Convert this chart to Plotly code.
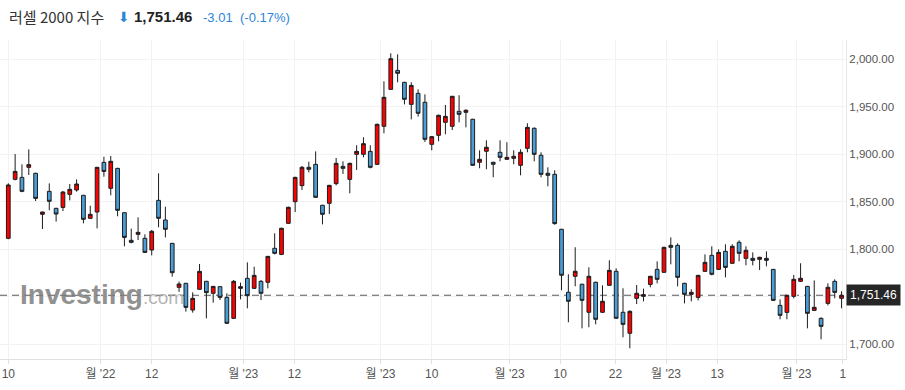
import plotly.graph_objects as go

# Daily candles (index 0 = first session shown)
opens = [1811.4, 1873.5, 1875.6, 1886.2, 1879.9, 1836.7, 1860.9, 1843.0, 1844.0, 1857.7,
         1862.3, 1856.7, 1832.5, 1839.1, 1891.4, 1864.1, 1885.1, 1838.4, 1809.3, 1815.6,
         1811.4, 1799.1, 1851.4, 1830.7, 1806.1, 1759.8, 1764.0, 1735.9, 1757.7, 1766.1,
         1753.5, 1760.5, 1749.2, 1727.1, 1758.7, 1769.3, 1758.7, 1766.1, 1765.1, 1800.9,
         1794.5, 1827.2, 1850.0, 1866.9, 1886.2, 1889.3, 1846.2, 1848.3, 1869.0, 1887.2,
         1873.5, 1899.9, 1899.9, 1903.0, 1889.3, 1929.4, 1968.3, 1988.3, 1975.7, 1952.5,
         1964.1, 1954.7, 1910.4, 1919.9, 1933.6, 1929.4, 1945.2, 1944.1, 1936.8, 1891.5,
         1903.1, 1891.5, 1902.0, 1894.6, 1895.7, 1888.3, 1906.2, 1927.3, 1898.9, 1879.9,
         1878.8, 1820.9, 1754.6, 1771.4, 1763.0, 1733.5, 1765.1, 1733.5, 1761.9, 1776.7,
         1733.5, 1711.4, 1748.2, 1750.3, 1762.9, 1778.7, 1775.6, 1804.0, 1804.0, 1764.0,
         1752.4, 1749.2, 1776.6, 1793.5, 1778.7, 1797.7, 1785.1, 1807.2, 1790.3, 1790.3,
         1789.3, 1790.3, 1778.7, 1740.8, 1733.4, 1750.3, 1766.1, 1760.8, 1735.5, 1727.1,
         1742.9, 1766.1, 1748.2]
highs = [1869.3, 1900.2, 1889.3, 1905.1, 1880.5, 1839.5, 1869.3, 1843.5, 1861.2, 1868.6,
         1873.5, 1857.2, 1845.8, 1886.6, 1897.4, 1898.1, 1885.6, 1838.9, 1821.6, 1833.5,
         1815.6, 1820.2, 1879.9, 1844.7, 1806.6, 1765.8, 1764.5, 1754.5, 1784.4, 1766.6,
         1761.2, 1760.9, 1753.5, 1767.5, 1764.7, 1786.1, 1781.5, 1767.5, 1792.8, 1816.7,
         1822.6, 1844.8, 1876.3, 1887.6, 1892.2, 1903.0, 1846.7, 1867.7, 1896.0, 1892.5,
         1891.1, 1909.4, 1917.8, 1909.4, 1932.2, 1976.8, 2006.3, 2005.2, 1976.2, 1975.7,
         1968.3, 1963.1, 1919.2, 1941.7, 1951.9, 1961.4, 1962.1, 1947.3, 1937.3, 1904.1,
         1914.7, 1892.0, 1914.7, 1912.6, 1904.1, 1905.2, 1932.6, 1928.3, 1902.0, 1886.2,
         1883.1, 1821.4, 1773.5, 1802.0, 1763.7, 1780.9, 1765.8, 1761.9, 1788.3, 1779.8,
         1758.8, 1735.6, 1762.2, 1758.4, 1771.8, 1787.2, 1802.6, 1812.4, 1806.1, 1764.6,
         1757.7, 1772.9, 1794.5, 1803.0, 1799.8, 1805.1, 1805.1, 1809.3, 1803.0, 1796.6,
         1792.0, 1797.7, 1779.2, 1747.1, 1752.0, 1772.8, 1785.1, 1761.3, 1767.1, 1728.2,
         1764.0, 1768.2, 1755.6]
lows = [1810.5, 1872.5, 1860.0, 1878.1, 1850.7, 1821.2, 1840.9, 1829.0, 1840.2, 1851.4,
        1860.5, 1827.2, 1832.0, 1821.9, 1876.3, 1856.7, 1834.6, 1803.0, 1806.1, 1809.6,
        1796.2, 1793.5, 1823.0, 1812.4, 1771.0, 1755.0, 1734.2, 1733.1, 1757.2, 1727.1,
        1743.6, 1746.4, 1721.2, 1726.6, 1747.1, 1737.7, 1758.0, 1746.4, 1758.7, 1794.5,
        1793.8, 1826.5, 1839.1, 1862.3, 1880.9, 1854.0, 1826.1, 1837.0, 1867.2, 1879.2,
        1858.8, 1883.4, 1896.7, 1885.1, 1888.6, 1922.0, 1967.6, 1975.7, 1952.5, 1936.7,
        1939.6, 1912.9, 1904.1, 1913.6, 1921.0, 1925.5, 1933.6, 1928.3, 1887.6, 1885.2,
        1884.1, 1875.7, 1892.5, 1894.0, 1889.4, 1877.8, 1902.0, 1892.5, 1875.7, 1866.2,
        1825.8, 1756.7, 1723.0, 1760.9, 1716.6, 1717.7, 1720.8, 1732.8, 1761.2, 1726.5,
        1707.2, 1695.6, 1742.2, 1745.0, 1759.8, 1764.0, 1775.0, 1784.0, 1760.8, 1742.9,
        1745.0, 1746.1, 1776.0, 1772.4, 1778.0, 1770.3, 1784.5, 1787.2, 1782.9, 1782.9,
        1778.0, 1781.9, 1745.4, 1726.1, 1726.1, 1748.2, 1765.4, 1716.6, 1734.8, 1705.0,
        1740.8, 1748.2, 1737.7]
closes = [1867.6, 1881.9, 1860.9, 1889.0, 1853.5, 1839.1, 1850.4, 1837.0, 1860.2, 1863.0,
          1868.6, 1831.4, 1836.7, 1886.2, 1881.9, 1892.5, 1840.9, 1812.4, 1807.2, 1817.7,
          1796.6, 1818.8, 1832.5, 1820.9, 1775.2, 1763.3, 1738.7, 1748.2, 1776.6, 1754.2,
          1760.8, 1749.2, 1721.9, 1766.1, 1760.5, 1751.0, 1772.4, 1753.5, 1792.4, 1795.6,
          1822.0, 1844.1, 1875.6, 1886.2, 1884.1, 1854.6, 1836.7, 1867.2, 1890.4, 1885.1,
          1890.4, 1903.0, 1911.1, 1886.2, 1931.5, 1959.9, 2000.6, 1985.2, 1957.8, 1972.5,
          1943.1, 1915.7, 1918.5, 1941.0, 1939.9, 1961.0, 1942.0, 1946.3, 1888.3, 1894.6,
          1907.3, 1889.4, 1896.7, 1896.7, 1897.8, 1902.0, 1928.3, 1899.9, 1878.8, 1877.8,
          1826.9, 1772.5, 1745.1, 1776.7, 1746.1, 1771.4, 1726.1, 1745.1, 1777.7, 1727.2,
          1720.8, 1734.5, 1753.5, 1752.1, 1771.4, 1768.2, 1801.9, 1801.9, 1770.3, 1752.4,
          1754.5, 1772.4, 1786.1, 1773.5, 1796.6, 1780.8, 1803.0, 1795.6, 1798.8, 1788.2,
          1791.4, 1788.2, 1746.1, 1730.3, 1751.4, 1768.2, 1769.3, 1732.4, 1738.7, 1718.7,
          1759.8, 1754.47, 1751.46]

# X-axis tick labels (as shown) and their session positions
tick_labels = ["10", "월 '22", "12", "월 '23", "12", "월 '23", "10", "월 '23",
               "10", "22", "월 '23", "13", "월 '23", "1"]
tick_pos = [0, 13.5, 21, 34.4, 41.9, 54.5, 62, 73.4, 80.8, 88.9, 96.3, 103.8, 115.4, 122.2]

y_ticks = [1700, 1750, 1800, 1850, 1900, 1950, 2000]
y_tick_labels = ["1,700.00", "", "1,800.00", "1,850.00", "1,900.00", "1,950.00", "2,000.00"]

title_name = "러셀 2000 지수"
last_price = closes[-1]
change = "-3.01"
change_pct = "(-0.17%)"

x = list(range(len(closes)))
BLUE_TXT = "#2a86d8"

fig = go.Figure()
fig.add_trace(go.Candlestick(
    x=x, open=opens, high=highs, low=lows, close=closes,
    increasing=dict(fillcolor="#ff0000", line=dict(color="#1c1c1c", width=1)),
    decreasing=dict(fillcolor="#4a9ed8", line=dict(color="#1c1c1c", width=1)),
    whiskerwidth=0, hoverinfo="skip", showlegend=False,
))

fig.add_shape(type="line", xref="paper", x0=0, x1=0.995, yref="y",
              y0=last_price, y1=last_price, layer="between",
              line=dict(color="#5a5a5a", width=1.2, dash="7px,5px"))

ann = []
TY = 1 + 23/319
ann.append(dict(text=title_name, xref="paper", yref="paper", x=7/846, y=TY,
                xanchor="left", yanchor="middle", showarrow=False,
                font=dict(family="Noto Sans CJK KR", size=15, color="#333333")))
ann.append(dict(text="⬇", xref="paper", yref="paper", x=116/846, y=TY,
                xanchor="left", yanchor="middle", showarrow=False,
                font=dict(family="DejaVu Sans", size=14, color=BLUE_TXT)))
ann.append(dict(text="<b>" + f"{last_price:,.2f}" + "</b>", xref="paper", yref="paper",
                x=132/846, y=TY, xanchor="left", yanchor="middle", showarrow=False,
                font=dict(family="Liberation Sans, Arial", size=15, color="#222222")))
ann.append(dict(text=change, xref="paper", yref="paper", x=201/846, y=TY - 1/319,
                xanchor="left", yanchor="middle", showarrow=False,
                font=dict(family="Liberation Sans, Arial", size=13, color=BLUE_TXT)))
ann.append(dict(text=change_pct, xref="paper", yref="paper", x=238/846, y=TY - 1/319,
                xanchor="left", yanchor="middle", showarrow=False,
                font=dict(family="Liberation Sans, Arial", size=13, color=BLUE_TXT)))
# watermark
ann.append(dict(text="<b>Investing</b><span style='font-size:19px;color:#a8a8a8'>.com</span>",
                xref="paper", yref="paper", x=18/846, y=(359 - 294)/319,
                xanchor="left", yanchor="middle", showarrow=False,
                font=dict(family="Liberation Sans, Arial", size=28, color="rgba(125,125,125,0.85)")))
# last price tag
ann.append(dict(text=f"{last_price:,.2f}", xref="paper", yref="y", x=1, y=last_price,
                xanchor="left", yanchor="middle", showarrow=False, xshift=0,
                bgcolor="#262626", borderpad=3,
                font=dict(family="Liberation Sans, Arial", size=12, color="#ffffff")))

fig.update_layout(
    width=905, height=390,
    margin=dict(l=0, r=59, t=40, b=31),
    paper_bgcolor="white", plot_bgcolor="white",
    annotations=ann, showlegend=False, boxgap=0.22,
    xaxis=dict(range=[-1.215, 122.65], rangeslider=dict(visible=False),
               tickmode="array", tickvals=tick_pos, ticktext=tick_labels,
               showgrid=True, gridcolor="#f2f2f2", gridwidth=1,
               showline=True, linecolor="#e0e0e0", linewidth=1,
               ticks="outside", ticklen=4, tickcolor="#e0e0e0",
               tickfont=dict(family="Liberation Sans, Noto Sans CJK KR", size=12, color="#555555"),
               zeroline=False, fixedrange=True),
    yaxis=dict(range=[1684.3, 2020.3], side="right",
               tickmode="array", tickvals=y_ticks, ticktext=y_tick_labels,
               showgrid=True, gridcolor="#f2f2f2", gridwidth=1,
               showline=True, linecolor="#e6e6e6", linewidth=1,
               ticks="", tickfont=dict(family="Liberation Sans, Arial", size=11.5, color="#555555"),
               zeroline=False, fixedrange=True),
)

fig.write_html("out.html", config={"displayModeBar": False},
               post_script="document.body.style.margin='0';document.body.style.padding='0';")
